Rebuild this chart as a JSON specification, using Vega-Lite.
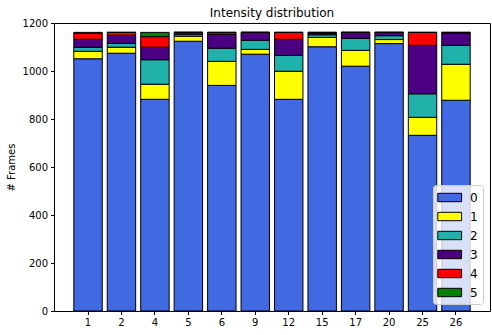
{
  "$schema": "https://vega.github.io/schema/vega-lite/v6.json",
  "autosize": {"type": "none"},
  "width": 436,
  "height": 288,
  "padding": {"left": 54, "top": 23, "right": 2, "bottom": 24},
  "background": "white",
  "title": {"text": "Intensity distribution", "font": "DejaVu Sans", "fontSize": 12, "fontWeight": "normal", "color": "black", "offset": 5, "dy": 7},
  "data": {"values": [
    {"x":"1","k":"0","v":1051},{"x":"1","k":"1","v":31},{"x":"1","k":"2","v":17},{"x":"1","k":"3","v":33},{"x":"1","k":"4","v":25},{"x":"1","k":"5","v":4},
    {"x":"2","k":"0","v":1074},{"x":"2","k":"1","v":25},{"x":"2","k":"2","v":16},{"x":"2","k":"3","v":34},{"x":"2","k":"4","v":12},{"x":"2","k":"5","v":0},
    {"x":"4","k":"0","v":882},{"x":"4","k":"1","v":63},{"x":"4","k":"2","v":102},{"x":"4","k":"3","v":52},{"x":"4","k":"4","v":44},{"x":"4","k":"5","v":18},
    {"x":"5","k":"0","v":1124},{"x":"5","k":"1","v":21},{"x":"5","k":"2","v":8},{"x":"5","k":"3","v":8},{"x":"5","k":"4","v":0},{"x":"5","k":"5","v":0},
    {"x":"6","k":"0","v":940},{"x":"6","k":"1","v":100},{"x":"6","k":"2","v":55},{"x":"6","k":"3","v":58},{"x":"6","k":"4","v":8},{"x":"6","k":"5","v":0},
    {"x":"9","k":"0","v":1070},{"x":"9","k":"1","v":20},{"x":"9","k":"2","v":38},{"x":"9","k":"3","v":33},{"x":"9","k":"4","v":0},{"x":"9","k":"5","v":0},
    {"x":"12","k":"0","v":882},{"x":"12","k":"1","v":117},{"x":"12","k":"2","v":66},{"x":"12","k":"3","v":67},{"x":"12","k":"4","v":29},{"x":"12","k":"5","v":0},
    {"x":"15","k":"0","v":1101},{"x":"15","k":"1","v":39},{"x":"15","k":"2","v":11},{"x":"15","k":"3","v":6},{"x":"15","k":"4","v":4},{"x":"15","k":"5","v":0},
    {"x":"17","k":"0","v":1020},{"x":"17","k":"1","v":66},{"x":"17","k":"2","v":50},{"x":"17","k":"3","v":25},{"x":"17","k":"4","v":0},{"x":"17","k":"5","v":0},
    {"x":"20","k":"0","v":1114},{"x":"20","k":"1","v":17},{"x":"20","k":"2","v":16},{"x":"20","k":"3","v":14},{"x":"20","k":"4","v":0},{"x":"20","k":"5","v":0},
    {"x":"25","k":"0","v":732},{"x":"25","k":"1","v":75},{"x":"25","k":"2","v":98},{"x":"25","k":"3","v":202},{"x":"25","k":"4","v":54},{"x":"25","k":"5","v":0},
    {"x":"26","k":"0","v":878},{"x":"26","k":"1","v":150},{"x":"26","k":"2","v":79},{"x":"26","k":"3","v":51},{"x":"26","k":"4","v":3},{"x":"26","k":"5","v":0}
  ]},
  "mark": {"type": "bar", "stroke": "black", "strokeWidth": 1, "strokeOpacity": 1},
  "encoding": {
    "x": {
      "field": "x", "type": "nominal", "sort": null,
      "scale": {"paddingInner": 0.15, "paddingOuter": 0.592},
      "axis": {"title": null, "labelAngle": 0, "labelFont": "DejaVu Sans", "labelFontSize": 10, "labelColor": "black", "tickColor": "black", "tickSize": 3.5, "labelPadding": 3, "domain": false, "grid": false}
    },
    "y": {
      "field": "v", "type": "quantitative", "aggregate": "sum", "stack": "zero",
      "scale": {"domain": [0, 1200], "nice": false, "zero": true},
      "axis": {"title": "# Frames", "format": "d", "values": [0,200,400,600,800,1000,1200], "titleFont": "DejaVu Sans", "titleFontSize": 10, "titleFontWeight": "normal", "titleColor": "black", "titlePadding": 6, "labelFont": "DejaVu Sans", "labelFontSize": 10, "labelColor": "black", "tickColor": "black", "tickSize": 3.5, "labelPadding": 3, "domain": false, "grid": false}
    },
    "order": {"field": "k", "type": "nominal", "sort": "ascending"},
    "color": {
      "field": "k", "type": "nominal",
      "scale": {"domain": ["0","1","2","3","4","5"], "range": ["#4169e1","#ffff00","#20b2aa","#4b0082","#ff0000","#008000"]},
      "legend": {
        "title": null, "orient": "bottom-right", "offset": 7,
        "fillColor": "rgba(255,255,255,0.8)", "strokeColor": "#cccccc", "cornerRadius": 3, "padding": 5,
        "symbolType": "M-1.1,-0.6L2.3,-0.6L2.3,0.6L-1.1,0.6Z", "symbolSize": 196, "symbolStrokeColor": "black", "symbolStrokeWidth": 1, "symbolOpacity": 1,
        "labelFont": "DejaVu Sans", "labelFontSize": 12, "labelColor": "black", "labelOffset": 17, "rowPadding": 5, "labelLimit": 60
      }
    }
  },
  "config": {
    "view": {"stroke": "black", "strokeWidth": 1},
    "axis": {"ticks": true}
  }
}
